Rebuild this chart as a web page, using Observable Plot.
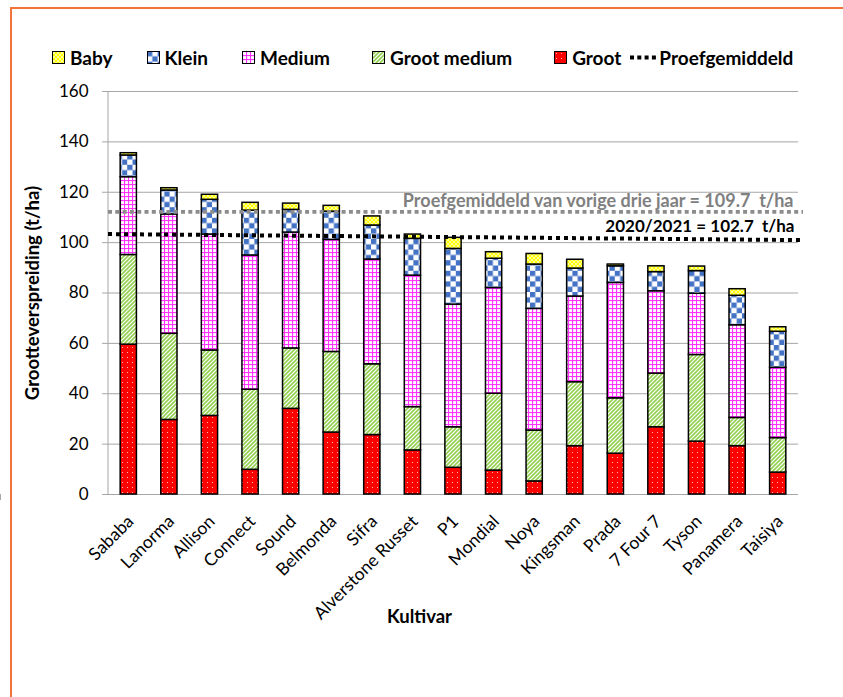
<!DOCTYPE html>
<html>
<head>
<meta charset="utf-8">
<script src="https://cdn.jsdelivr.net/npm/d3@7"></script>
<script src="https://cdn.jsdelivr.net/npm/@observablehq/plot@0.6"></script>
<style>
  html, body { margin: 0; padding: 0; background: #fff; overflow: hidden; }
  body { font-family: Lato, "Open Sans", sans-serif; }
  #page { position: relative; width: 843px; height: 697px; overflow: hidden; }
  #border { position: absolute; left: 10px; top: 7px; width: 1000px; height: 900px; border-left: 2px solid #F4733B; border-top: 2px solid #F4733B; box-sizing: border-box; pointer-events: none; }
  #legend { position: relative; height: 80px; display: flex; align-items: center; padding-left: 52px; padding-top: 34px; box-sizing: border-box; font-weight: bold; font-size: 19px; color: #000; }
  .item { display: flex; align-items: center; white-space: nowrap; }
  .item svg { margin-right: 5px; }
  .item.i0 { margin-right: 34px; }
  .item.i1 { margin-right: 34px; }
  .item.i2 { margin-right: 42px; }
  .item.i3 { margin-right: 42px; }
  .item.i4 { margin-right: 8px; }
  #chart { position: relative; }
</style>
</head>
<body>
<div id="page">
<svg width="0" height="0" style="position:absolute">
  <defs>
    <pattern id="pat-groot" patternUnits="userSpaceOnUse" width="5" height="5">
      <rect width="5" height="5" fill="#FF0000"/>
      <rect x="2" y="2" width="1" height="1" fill="#FFB8B8"/>
    </pattern>
    <pattern id="pat-gm" patternUnits="userSpaceOnUse" width="4" height="4">
      <rect width="4" height="4" fill="#FFFFFF"/>
      <path d="M-1,1 L1,-1 M0,4 L4,0 M3,5 L5,3" stroke="#92D050" stroke-width="1.6"/>
    </pattern>
    <pattern id="pat-medium" patternUnits="userSpaceOnUse" width="4" height="4">
      <rect width="4" height="4" fill="#FFFFFF"/>
      <rect x="0" y="0" width="1.1" height="4" fill="#FF33FF"/>
      <rect x="0" y="0" width="4" height="1.1" fill="#FF33FF"/>
    </pattern>
    <pattern id="pat-klein" patternUnits="userSpaceOnUse" width="10.6" height="10.6">
      <rect width="10.6" height="10.6" fill="#FFFFFF"/>
      <rect x="0" y="0" width="5.3" height="5.3" fill="#4472C4"/>
      <rect x="5.3" y="5.3" width="5.3" height="5.3" fill="#4472C4"/>
    </pattern>
    <pattern id="pat-baby" patternUnits="userSpaceOnUse" width="4" height="4">
      <rect width="4" height="4" fill="#FFFF00"/>
      <path d="M0,0 L4,4 M4,0 L0,4" stroke="#FFFFC0" stroke-width="0.8"/>
    </pattern>
  </defs>
</svg>
<div id="border"></div>
<div id="legend"></div>
<div id="chart"></div>
</div>
<script>
// ---- data ----
const categories = ["Sababa","Lanorma","Allison","Connect","Sound","Belmonda","Sifra","Alverstone Russet","P1","Mondial","Noya","Kingsman","Prada","7 Four 7","Tyson","Panamera","Taisiya"];
const groot       = [59.5, 29.6, 31.2,  9.8, 34.0, 24.6, 23.6, 17.5, 10.6,  9.5,  5.2, 19.2, 16.2, 26.7, 21.0, 19.2,  8.7];
const grootMedium = [35.6, 34.2, 26.0, 31.8, 24.0, 32.0, 28.1, 17.2, 16.1, 30.5, 20.2, 25.4, 22.0, 21.3, 34.4, 11.2, 13.7];
const medium      = [30.9, 47.4, 46.0, 53.3, 46.0, 44.5, 41.6, 52.2, 48.7, 42.0, 48.3, 34.0, 45.8, 32.7, 24.3, 36.8, 27.9];
const klein       = [ 8.6,  9.5, 13.8, 17.8,  9.0, 11.2, 13.5, 14.6, 22.1, 11.6, 17.6, 11.1,  6.6,  7.6,  9.0, 11.7, 14.3];
const baby        = [ 0.9,  0.9,  2.0,  3.1,  2.5,  2.3,  3.6,  1.7,  4.4,  2.6,  4.2,  3.5,  0.7,  2.3,  1.8,  2.6,  1.8];
const seriesNames = ["Groot", "Groot medium", "Medium", "Klein", "Baby"];
const seriesValues = [groot, grootMedium, medium, klein, baby];
const seriesFills = ["url(#pat-groot)", "url(#pat-gm)", "url(#pat-medium)", "url(#pat-klein)", "url(#pat-baby)"];
const legendOrder = ["Baby", "Klein", "Medium", "Groot medium", "Groot"];
const yTicks = [0, 20, 40, 60, 80, 100, 120, 140, 160];
const avgPrevious = [112.0, 112.0];   // drawn position (left, right)
const avgCurrent = [103.2, 100.8];    // drawn position (left, right)
const avgPreviousLabel = "Proefgemiddeld van vorige drie jaar = 109.7  t/ha";
const avgCurrentLabel = "2020/2021 = 102.7  t/ha";
const lineLegendLabel = "Proefgemiddeld";
const xTitle = "Kultivar";
const yTitle = "Grootteverspreiding (t/ha)";

// ---- table ----
const rows = [];
categories.forEach((c, i) => {
  seriesNames.forEach((s, j) => rows.push({cat: c, series: s, value: seriesValues[j][i], fill: seriesFills[j]}));
});

// ---- legend ----
const legend = document.getElementById("legend");
legendOrder.forEach((name, k) => {
  const j = seriesNames.indexOf(name);
  const it = document.createElement("div");
  it.className = "item i" + k;
  it.innerHTML = `<svg width="13" height="13"><rect x="0.5" y="0.5" width="12" height="12" fill="${seriesFills[j]}" stroke="#000" stroke-width="1"/></svg><span>${name}</span>`;
  legend.appendChild(it);
});
{
  const it = document.createElement("div");
  it.className = "item";
  it.innerHTML = `<svg width="28" height="13" style="margin-right:2px"><line x1="1" x2="28" y1="6.5" y2="6.5" stroke="#000" stroke-width="4" stroke-dasharray="4,3.3"/></svg><span>${lineLegendLabel}</span>`;
  legend.appendChild(it);
}

// ---- custom mark: axis lines, category ticks, average lines ----
function extras(index, scales, values, dimensions) {
  const {x, y} = scales;
  const {width, marginLeft, marginRight} = dimensions;
  const g = d3.create("svg:g");
  const step = x(categories[1]) - x(categories[0]);
  const bw = x.bandwidth ? x.bandwidth : step * 0.4;
  g.append("line").attr("x1", marginLeft).attr("x2", marginLeft)
    .attr("y1", y(yTicks[0])).attr("y2", y(yTicks[yTicks.length - 1]))
    .attr("stroke", "#a6a6a6").attr("stroke-width", 1);
  const bounds = categories.map(c => x(c) + bw / 2 - step / 2);
  bounds.push(x(categories[categories.length - 1]) + bw / 2 + step / 2);
  bounds.forEach(b => g.append("line").attr("x1", b).attr("x2", b)
    .attr("y1", y(0)).attr("y2", y(0) + 6).attr("stroke", "#a6a6a6"));
  g.append("line").attr("x1", marginLeft).attr("x2", width - marginRight + 5)
    .attr("y1", y(avgPrevious[0])).attr("y2", y(avgPrevious[1]))
    .attr("stroke", "#8c8c8c").attr("stroke-width", 3.6).attr("stroke-dasharray", "4,3.3");
  g.append("line").attr("x1", marginLeft).attr("x2", width - marginRight + 5)
    .attr("y1", y(avgCurrent[0])).attr("y2", y(avgCurrent[1]))
    .attr("stroke", "#000").attr("stroke-width", 4).attr("stroke-dasharray", "4,4");
  return g.node();
}

const chart = Plot.plot({
  width: 843,
  height: 617,
  marginLeft: 108,
  marginRight: 45,
  marginTop: 11,
  marginBottom: 203,
  style: {fontFamily: "Lato, 'Open Sans', sans-serif", fontSize: "16px", background: "transparent", overflow: "visible"},
  x: {domain: categories, paddingInner: 0.6, paddingOuter: 0.3, round: false, label: null},
  y: {domain: [0, 160], label: null},
  color: {type: "identity"},
  marks: [
    Plot.gridY(yTicks, {stroke: "#a6a6a6", strokeOpacity: 1, strokeWidth: 1}),
    Plot.axisY({ticks: yTicks, tickSize: 6, tickPadding: 14, stroke: "#a6a6a6", fontSize: 17, label: null, tickFormat: d => String(d)}),
    Plot.axisX({tickSize: 0, tickPadding: 24, dx: 2, tickRotate: -45, fontSize: 17.5, label: null}),
    Plot.barY(rows, Plot.stackY({x: "cat", y: "value", fill: "fill", stroke: "#000", strokeWidth: 1.5})),
    extras,
    Plot.text([avgPreviousLabel], {frameAnchor: "right", y: () => avgPrevious[1], dx: -5, dy: -5, lineAnchor: "bottom", textAnchor: "end", fill: "#808080", fontWeight: "bold", fontSize: 18}),
    Plot.text([avgCurrentLabel], {frameAnchor: "right", y: () => avgCurrent[1], dx: -4, dy: -9, lineAnchor: "bottom", textAnchor: "end", fill: "#000", fontWeight: "bold", fontSize: 17}),
    Plot.text([xTitle], {frameAnchor: "bottom", dx: -34, dy: 128, fontWeight: "bold", fontSize: 18.5, fill: "#000"}),
    Plot.text([yTitle], {frameAnchor: "left", rotate: -90, textAnchor: "middle", dx: -75, fontWeight: "bold", fontSize: 18.5, fill: "#000"})
  ]
});
document.getElementById("chart").appendChild(chart);
</script>
</body>
</html>
